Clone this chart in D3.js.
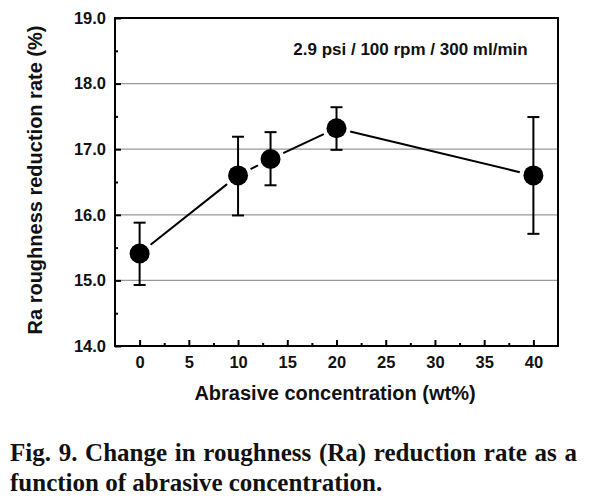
<!DOCTYPE html>
<html><head><meta charset="utf-8">
<script src="https://cdn.jsdelivr.net/npm/d3@7"></script>
<style>body{margin:0;background:#fff}svg{display:block}</style>
</head><body>
<svg id="c" width="595" height="500"></svg>
<script>
const concentration = [0, 10, 13.3, 20, 40];
const reduction = [15.41, 16.60, 16.85, 17.32, 16.60];
const errUpper = [15.88, 17.19, 17.26, 17.64, 17.49];
const errLower = [14.93, 15.99, 16.45, 16.99, 15.71];
const xTicks = [0, 5, 10, 15, 20, 25, 30, 35, 40];
const yTicks = [14, 15, 16, 17, 18, 19];
const gridValues = [15, 16, 17, 18];
const annotation = "2.9 psi / 100 rpm / 300 ml/min";
const xTitle = "Abrasive concentration (wt%)";
const yTitle = "Ra roughness reduction rate (%)";
const captionLines = ["Fig. 9. Change in roughness (Ra) reduction rate as a", "function of abrasive concentration."];

const svg = d3.select("#c");
const L = 115, R = 558, T = 18, B = 346;
const x = d3.scaleLinear().domain([-2.5, 42.5]).range([L, R]);
const y = d3.scaleLinear().domain([14, 19]).range([B, T]);
const sans = "Liberation Sans, Arial, sans-serif";

// grid
svg.append("g").selectAll("line").data(gridValues).join("line")
  .attr("x1", L).attr("x2", R).attr("y1", d => y(d)).attr("y2", d => y(d))
  .attr("stroke", "#999").attr("stroke-width", 1.3);

// axes
const yAx = svg.append("g").attr("transform", `translate(${L},0)`)
  .call(d3.axisLeft(y).tickValues(yTicks).tickSize(-6).tickPadding(9).tickFormat(d3.format(".1f")));
const yMinor = svg.append("g").attr("transform", `translate(${L},0)`)
  .call(d3.axisLeft(y).tickValues(d3.range(14.5, 19, 1)).tickSize(-3).tickFormat(""));
const xAx = svg.append("g").attr("transform", `translate(0,${B})`)
  .call(d3.axisBottom(x).tickValues(xTicks).tickSize(-6).tickPadding(10).tickFormat(d3.format("d")));
const xMinor = svg.append("g").attr("transform", `translate(0,${B})`)
  .call(d3.axisBottom(x).tickValues(d3.range(2.5, 40, 5)).tickSize(-3).tickFormat(""));
[yAx, yMinor, xAx, xMinor].forEach(g => {
  g.select(".domain").remove();
  g.selectAll(".tick line").attr("stroke", "#000").attr("stroke-width", 2);
  g.selectAll("text").attr("font-family", sans).attr("font-weight", "bold").attr("font-size", 16.5).attr("fill", "#111");
});

// frame
svg.append("rect").attr("x", L).attr("y", T).attr("width", R - L).attr("height", B - T)
  .attr("fill", "none").attr("stroke", "#000").attr("stroke-width", 2);

// connecting line segments with gaps around markers
const pts = concentration.map((c, i) => [x(c), y(reduction[i])]);
const gap = 14;
for (let i = 0; i < pts.length - 1; i++) {
  const [x1, y1] = pts[i], [x2, y2] = pts[i + 1];
  const dx = x2 - x1, dy = y2 - y1, len = Math.hypot(dx, dy);
  if (len <= 2 * gap) continue;
  const ux = dx / len, uy = dy / len;
  svg.append("line").attr("x1", x1 + ux * gap).attr("y1", y1 + uy * gap)
    .attr("x2", x2 - ux * gap).attr("y2", y2 - uy * gap)
    .attr("stroke", "#000").attr("stroke-width", 2);
}

// error bars
const eb = svg.append("g").attr("stroke", "#000").attr("stroke-width", 2);
concentration.forEach((c, i) => {
  const cx = x(c);
  eb.append("line").attr("x1", cx).attr("x2", cx).attr("y1", y(errLower[i])).attr("y2", y(errUpper[i]));
  eb.append("line").attr("x1", cx - 6).attr("x2", cx + 6).attr("y1", y(errLower[i])).attr("y2", y(errLower[i]));
  eb.append("line").attr("x1", cx - 6).attr("x2", cx + 6).attr("y1", y(errUpper[i])).attr("y2", y(errUpper[i]));
});

// markers
svg.append("g").selectAll("circle").data(concentration).join("circle")
  .attr("cx", d => x(d)).attr("cy", (d, i) => y(reduction[i])).attr("r", 10).attr("fill", "#000");

// annotation
svg.append("text").attr("x", 410.5).attr("y", 55).attr("text-anchor", "middle")
  .attr("font-family", sans).attr("font-weight", "bold").attr("font-size", 17).attr("fill", "#111").text(annotation);

// axis titles
svg.append("text").attr("x", 335).attr("y", 400).attr("text-anchor", "middle")
  .attr("font-family", sans).attr("font-weight", "bold").attr("font-size", 20).attr("fill", "#111").text(xTitle);
svg.append("text").attr("transform", `translate(42,180) rotate(-90)`).attr("text-anchor", "middle")
  .attr("font-family", sans).attr("font-weight", "bold").attr("font-size", 20).attr("fill", "#111").text(yTitle);

// caption
const serif = "Liberation Serif, Times New Roman, serif";
const capY = [461, 491];
captionLines.forEach((line, i) => {
  const t = svg.append("text").attr("x", 10).attr("y", capY[i])
    .attr("font-family", serif).attr("font-weight", "bold").attr("font-size", 25).attr("fill", "#111").text(line);
  if (i === 0) {
    const w = t.node().getComputedTextLength();
    const gaps = line.split(" ").length - 1;
    const extra = (577 - 10 - w) / gaps;
    t.attr("word-spacing", extra);
  }
});
</script>
</body></html>
